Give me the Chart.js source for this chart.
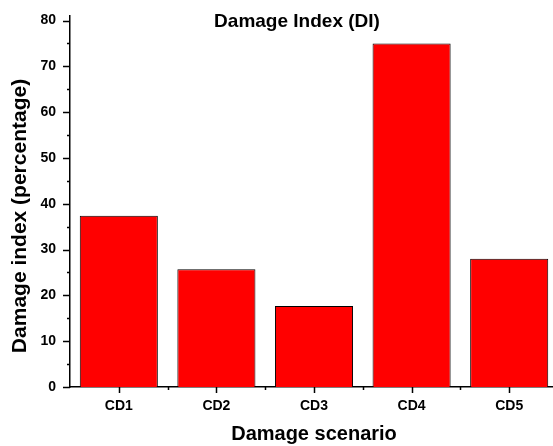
<!DOCTYPE html>
<html>
<head>
<meta charset="utf-8">
<script src="https://cdn.jsdelivr.net/npm/chart.js@4/dist/chart.umd.min.js"></script>
<style>
  html, body { margin: 0; padding: 0; background: #fff; overflow: hidden; }
  #wrap { width: 560px; height: 446px; }
</style>
</head>
<body>
<div id="wrap"><canvas id="chartDI" width="560" height="446"></canvas></div>
<script>
// Datos del gráfico
var categorias = ['CD1', 'CD2', 'CD3', 'CD4', 'CD5'];
var valoresDI = [37.4, 25.7, 17.7, 75.0, 28.0];
var ticksY = [0, 10, 20, 30, 40, 50, 60, 70, 80];

var fuente = "'Liberation Sans', Arial, sans-serif";

// Título dentro del área del gráfico, título del eje Y y marcas de los ejes
var extras = {
    id: 'extras',
    afterDraw: function (chart) {
        var ctx = chart.ctx;
        var x = chart.scales.x, y = chart.scales.y;
        ctx.save();
        ctx.strokeStyle = '#000';
        ctx.lineWidth = 1.5;
        ctx.beginPath();
        // marcas eje Y (mayores cada 10, menores cada 5)
        for (var v = 0; v <= 80; v += 5) {
            var py = Math.round(y.getPixelForValue(v)) + 0.5;
            var len = (v % 10 === 0) ? 7 : 3;
            ctx.moveTo(y.right, py);
            ctx.lineTo(y.right - len, py);
        }
        // marcas eje X (mayores en categorías, menores entre ellas)
        for (var i = 0; i < categorias.length; i++) {
            var px = Math.round(x.getPixelForValue(i)) + 0.5;
            ctx.moveTo(px, x.top);
            ctx.lineTo(px, x.top + 6);
            if (i > 0) {
                var pm = Math.round(x.getPixelForValue(i - 0.5)) + 0.5;
                ctx.moveTo(pm, x.top);
                ctx.lineTo(pm, x.top + 3);
            }
        }
        ctx.stroke();
        ctx.fillStyle = '#000';
        ctx.textAlign = 'center';
        ctx.textBaseline = 'middle';
        ctx.font = 'bold 19px ' + fuente;
        ctx.fillText('Damage Index (DI)', 297, 22);
        // título eje Y
        ctx.translate(20, 216);
        ctx.rotate(-Math.PI / 2);
        ctx.font = 'bold 21px ' + fuente;
        ctx.fillText('Damage index (percentage)', 0, 0);
        ctx.restore();
    }
};

var ctxDI = document.getElementById('chartDI').getContext('2d');
var chartDI = new Chart(ctxDI, {
    type: 'bar',
    data: {
        labels: categorias,
        datasets: [{
            label: 'DI',
            data: valoresDI,
            backgroundColor: '#ff0000',
            borderColor: '#000000',
            borderWidth: 1,
            barPercentage: 0.8,
            categoryPercentage: 1.0
        }]
    },
    options: {
        responsive: false,
        animation: false,
        layout: { padding: { top: 16, right: 2, left: 0, bottom: 0 } },
        plugins: {
            legend: { display: false },
            tooltip: { enabled: false }
        },
        scales: {
            x: {
                grid: { display: false, drawTicks: false },
                border: { color: '#000', width: 1.5 },
                ticks: {
                    color: '#000',
                    padding: 11,
                    font: { family: fuente, size: 14, weight: 'bold' }
                },
                title: {
                    display: true,
                    text: 'Damage scenario',
                    color: '#000',
                    padding: { top: 0, bottom: 0 },
                    font: { family: fuente, size: 20, weight: 'bold' }
                },
                afterFit: function (s) { s.height = 59; s.paddingLeft = 0; s.paddingRight = 0; }
            },
            y: {
                min: 0,
                max: 81,
                afterBuildTicks: function (s) {
                    s.ticks = ticksY.map(function (v) { return { value: v }; });
                },
                grid: { display: false, drawTicks: false },
                border: { color: '#000', width: 1.5 },
                ticks: {
                    color: '#000',
                    padding: 14,
                    font: { family: fuente, size: 14, weight: 'bold' }
                },
                afterFit: function (s) { s.width = 70; s.paddingTop = 0; s.paddingBottom = 0; }
            }
        }
    },
    plugins: [extras]
});
</script>
</body>
</html>
